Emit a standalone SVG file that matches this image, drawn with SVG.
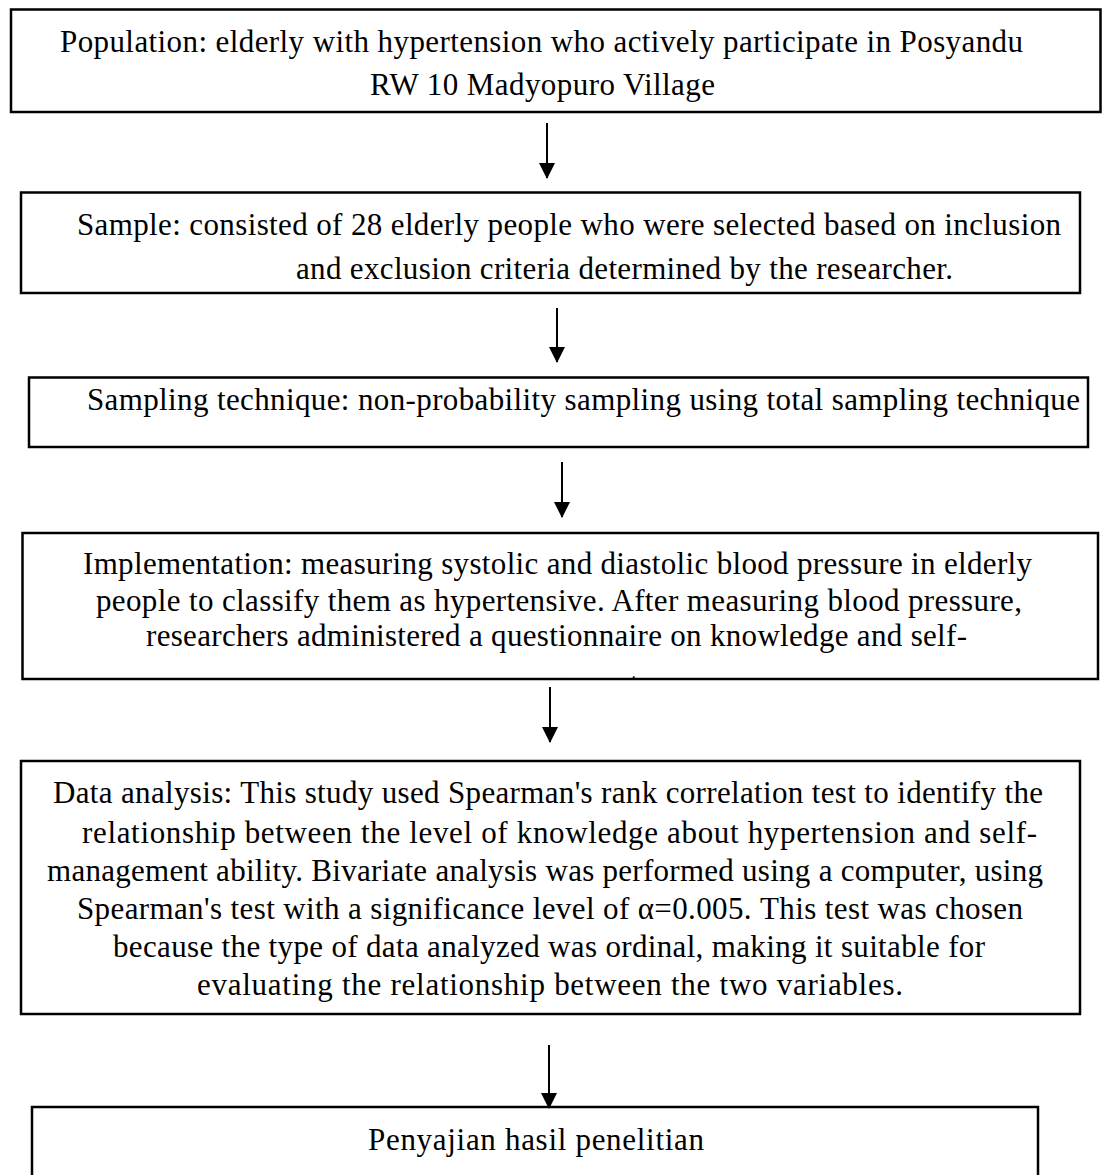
<svg xmlns="http://www.w3.org/2000/svg" width="1104" height="1175" viewBox="0 0 1104 1175">
<style>
.box{fill:#fff;stroke:#000;stroke-width:2.5}
.t{font-family:'Liberation Serif','Times New Roman',Tinos,serif;font-size:31px;fill:#000}
.c{stroke:#000;stroke-width:2;fill:none}
</style>
<defs>
<marker id="ah" markerWidth="8" markerHeight="8" refX="7.5" refY="4" orient="auto" markerUnits="strokeWidth">
<path d="M0,0 L8,4 L0,8 Z" fill="#000"/>
</marker>
<clipPath id="clip4"><rect x="23" y="534" width="1075" height="145"/></clipPath>
</defs>
<rect width="1104" height="1175" fill="#fff"/>
<g id="n1">
<rect class="box" x="11" y="9.5" width="1089.5" height="102.5"/>
<text class="t" x="60" y="51.5" textLength="963" lengthAdjust="spacing">Population: elderly with hypertension who actively participate in Posyandu</text>
<text class="t" x="370" y="94.5" textLength="345" lengthAdjust="spacing">RW 10 Madyopuro Village</text>
</g>
<g id="n2">
<rect class="box" x="21" y="192.5" width="1059" height="100.5"/>
<text class="t" x="77" y="234.5" textLength="984" lengthAdjust="spacing">Sample: consisted of 28 elderly people who were selected based on inclusion</text>
<text class="t" x="296" y="278.5" textLength="657" lengthAdjust="spacing">and exclusion criteria determined by the researcher.</text>
</g>
<g id="n3">
<rect class="box" x="29" y="377.5" width="1059" height="69.5"/>
<text class="t" x="87" y="410" textLength="993" lengthAdjust="spacing">Sampling technique: non-probability sampling using total sampling technique</text>
</g>
<g id="n4">
<rect class="box" x="22.5" y="533" width="1075.5" height="146"/>
<text class="t" x="83" y="574" textLength="949" lengthAdjust="spacing">Implementation: measuring systolic and diastolic blood pressure in elderly</text>
<text class="t" x="96" y="611" textLength="926" lengthAdjust="spacing">people to classify them as hypertensive. After measuring blood pressure,</text>
<text class="t" x="146" y="646" textLength="821" lengthAdjust="spacing">researchers administered a questionnaire on knowledge and self-</text>
<text class="t" x="563" y="694" text-anchor="middle" clip-path="url(#clip4)">management.</text>
</g>
<g id="n5">
<rect class="box" x="21" y="761" width="1059" height="253"/>
<text class="t" x="53" y="803" textLength="990" lengthAdjust="spacing">Data analysis: This study used Spearman's rank correlation test to identify the</text>
<text class="t" x="82" y="843" textLength="955" lengthAdjust="spacing">relationship between the level of knowledge about hypertension and self-</text>
<text class="t" x="47" y="881" textLength="996" lengthAdjust="spacing">management ability. Bivariate analysis was performed using a computer, using</text>
<text class="t" x="77" y="919" textLength="946" lengthAdjust="spacing">Spearman's test with a significance level of α=0.005. This test was chosen</text>
<text class="t" x="113" y="957" textLength="872" lengthAdjust="spacing">because the type of data analyzed was ordinal, making it suitable for</text>
<text class="t" x="197" y="995" textLength="706" lengthAdjust="spacing">evaluating the relationship between the two variables.</text>
</g>
<g id="n6">
<rect class="box" x="32" y="1107" width="1006" height="80"/>
<text class="t" x="368" y="1149.5" textLength="336" lengthAdjust="spacing">Penyajian hasil penelitian</text>
</g>
<g id="connectors">
<line class="c" x1="547" y1="123" x2="547" y2="178" marker-end="url(#ah)"/>
<line class="c" x1="557" y1="308" x2="557" y2="362" marker-end="url(#ah)"/>
<line class="c" x1="562" y1="462" x2="562" y2="517" marker-end="url(#ah)"/>
<line class="c" x1="550" y1="687" x2="550" y2="742" marker-end="url(#ah)"/>
<line class="c" x1="549" y1="1045" x2="549" y2="1108" marker-end="url(#ah)"/>
</g>
</svg>
